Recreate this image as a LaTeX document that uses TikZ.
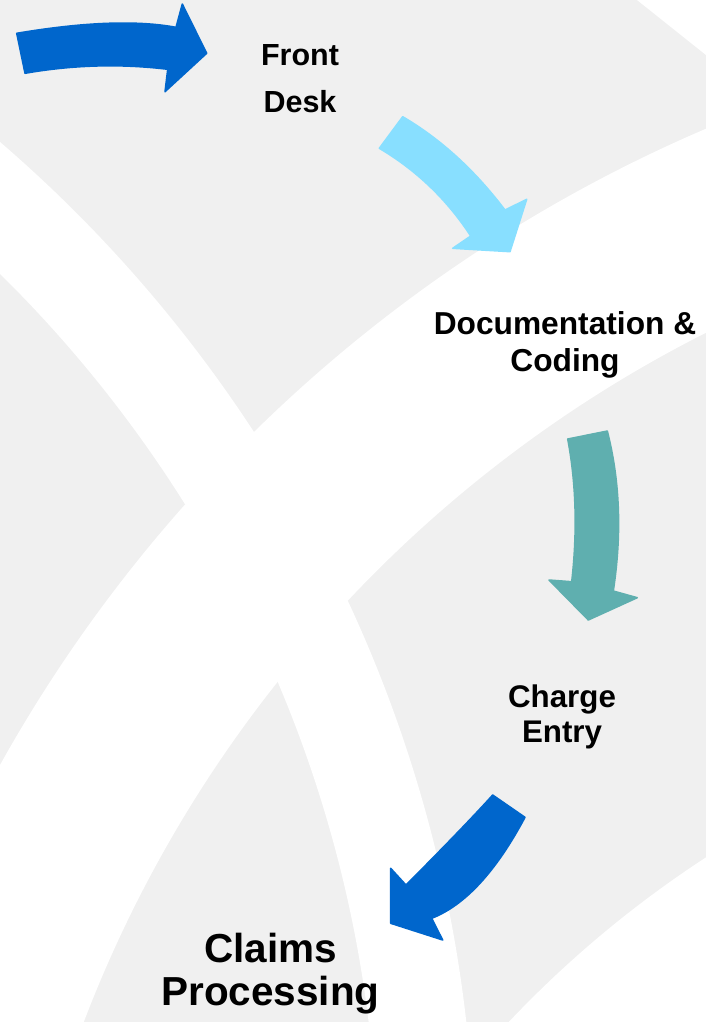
\documentclass[tikz,border=0pt]{standalone}
\usepackage{fontspec}
\setmainfont{Liberation Sans}
\definecolor{bandgray}{HTML}{F0F0F0}
\definecolor{flowblue}{HTML}{0066CC}
\definecolor{flowsky}{HTML}{88DFFF}
\definecolor{flowteal}{HTML}{5FAFAF}
\begin{document}
\begin{tikzpicture}[x=1bp,y=-1bp,
  stage/.style={align=center, inner sep=0pt, anchor=base, text=black},
  blockarrow/.style={line width=1.5bp, line join=round}]
\useasboundingbox (0,0) rectangle (706,1022);

% background: grey field crossed by white ribbons
\begin{scope}
  \clip (0,0) rectangle (706,1022);
  \fill[bandgray] (0,0) rectangle (706,1022);
  % ribbon sweeping from the upper left down to the bottom
  \fill[white, even odd rule] (-890,1177) circle[radius=1365bp]
                              (-890,1177) circle[radius=1268bp];
  % ribbon sweeping from the right down to the lower left
  \fill[white, even odd rule] (1283,1479) circle[radius=1468bp]
                              (1283,1479) circle[radius=1283bp];
  % top right corner piece
  \fill[white] (624.5,-10) -- (720,66.2) -- (720,-10) -- cycle;
  % bottom right corner piece
  \fill[white] (1298,1768) circle[radius=1086bp];
\end{scope}

% stage labels (anchored at the baseline of their last line)
\node[stage, font=\bfseries\fontsize{30.5bp}{47bp}\selectfont] (frontdesk) at (300,112) {Front\\Desk};
\node[stage, font=\bfseries\fontsize{31.7bp}{37bp}\selectfont] (doccoding) at (565,371) {Documentation \&\\Coding};
\node[stage, font=\bfseries\fontsize{31.3bp}{35bp}\selectfont] (charge) at (562,742) {Charge\\Entry};
\node[stage, font=\bfseries\fontsize{40.5bp}{43bp}\selectfont] (claims) at (270.5,1005) {Claims\\Processing};

% curved block arrows between the stages
\fill[flowblue, draw=flowblue, blockarrow]
  (16.7,33.3) .. controls (83.6,22) and (136.7,20) .. (176,27.3)
  -- (182.3,4) -- (206.7,53.3) -- (165,91.7) -- (167.7,69.3)
  .. controls (120.6,63.6) and (73,64.9) .. (25,73.3) -- cycle;

\fill[flowsky, draw=flowsky, blockarrow]
  (402.7,116.7) -- (379.3,148.3)
  .. controls (416.4,170.3) and (446.9,199.5) .. (470.7,236)
  -- (452.7,248.3) -- (510,251.7) -- (526.7,199.3) -- (505,210)
  .. controls (474.7,170) and (440.6,138.9) .. (402.7,116.7) -- cycle;

\fill[flowteal, draw=flowteal, blockarrow]
  (567.7,439) -- (607.3,431)
  .. controls (620,480.7) and (622,534.1) .. (613.3,591)
  -- (637.3,597.7) -- (588.3,620) -- (549,580) -- (571.7,581.7)
  .. controls (577.4,531.4) and (576.1,483.8) .. (567.7,439) -- cycle;

\fill[flowblue, draw=flowblue, blockarrow]
  (492.7,795) -- (525,817.3)
  .. controls (496.1,871.6) and (465,905.3) .. (431.7,918.3)
  -- (442.7,940) -- (390.7,923.3) -- (390.7,868.3) -- (406,885)
  .. controls (444.7,846.1) and (473.6,816.1) .. (492.7,795) -- cycle;
\end{tikzpicture}
\end{document}
